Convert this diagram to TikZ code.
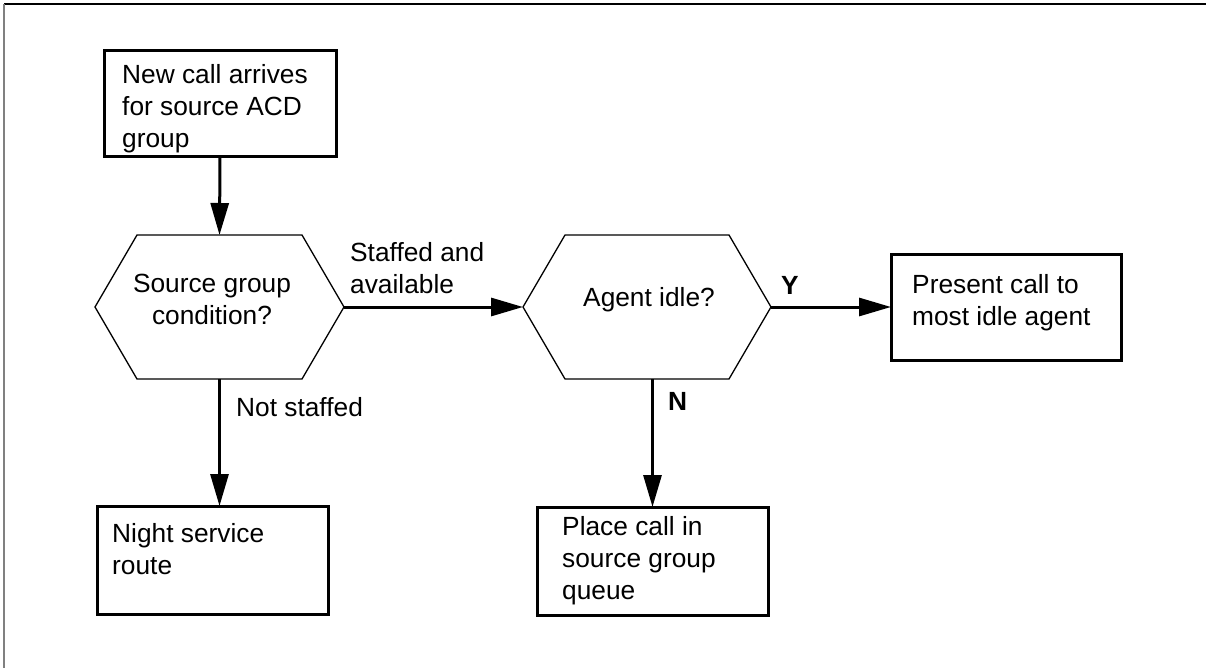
\documentclass[tikz,border=0pt]{standalone}
\usepackage{fontspec}
\setmainfont{Liberation Sans}
\usetikzlibrary{arrows.meta,calc}
\begin{document}
\begin{tikzpicture}[x=1pt,y=-1pt,
  box/.style={draw,line width=3pt,inner sep=0pt,outer sep=0pt,anchor=north west},
  hexnode/.style={inner sep=0pt,outer sep=0pt,minimum width=249pt,minimum height=144pt},
  hexline/.style={line width=1.3pt},
  txt/.style={font=\fontsize{26.3}{32}\selectfont,align=left,inner sep=0pt,anchor=north west},
  ctxt/.style={font=\fontsize{26.3}{32}\selectfont,align=center,inner sep=0pt,anchor=north},
  lbl/.style={font=\fontsize{26.3}{32}\selectfont\bfseries,inner sep=0pt,anchor=north west},
  conn/.style={line width=3pt,-{Triangle[length=32pt,width=18pt]}}]
\useasboundingbox (0,0) rectangle (1206,668);
% frame
\coordinate (fc) at (4,4);
\coordinate (fr) at (1206,4);
\coordinate (fb) at (4,668);
\draw[line width=1.5pt] (fc) -- (fr);
\draw[line width=1.5pt,gray] (fc) -- (fb);
% boxes
\node[box,minimum width=232pt,minimum height=106pt] (b1) at (104,51) {};
\node[box,minimum width=231pt,minimum height=108pt] (b2) at (97,506) {};
\node[box,minimum width=230pt,minimum height=106pt] (b3) at (891,254) {};
\node[box,minimum width=231pt,minimum height=108pt] (b4) at (537,507) {};
% hexagons
\node[hexnode] (h1) at (219.5,307) {};
\node[hexnode,minimum width=248pt] (h2) at (647,307) {};
\foreach \h in {h1,h2}{
  \draw[hexline] (\h.west) -- ($(\h.north west)+(42,0)$) -- ($(\h.north east)+(-42,0)$)
    -- (\h.east) -- ($(\h.south east)+(-42,0)$) -- ($(\h.south west)+(42,0)$) -- cycle;
}
% texts
\node[txt] (t1) at (122,64) {New call arrives\\for source ACD\\group};
\node[txt] (t2) at (112,523) {Night service\\route};
\node[txt] (t3) at (912,274) {Present call to\\most idle agent};
\node[txt] (t4) at (562,516) {Place call in\\source group\\queue};
\node[ctxt] (th1) at (212,274) {Source group\\condition?};
\node[ctxt] (th2) at (649,287) {Agent idle?};
% connectors
\draw[conn] (b1.south) -- (h1.north);
\draw[conn] (h1.east) -- (h2.west);
\draw[conn] (h2.east) -- (b3.west);
\draw[conn] (h2.south -| b4.north) -- (b4.north);
\draw[conn] (h1.south) -- (h1.south |- b2.north);
% labels
\node[txt] (l1) at (350,242) {Staffed and\\available};
\node[lbl] (ly) at (781,276) {Y};
\node[lbl] (ln) at (668,392) {N};
\node[txt] (l2) at (236,397) {Not staffed};
\end{tikzpicture}
\end{document}
